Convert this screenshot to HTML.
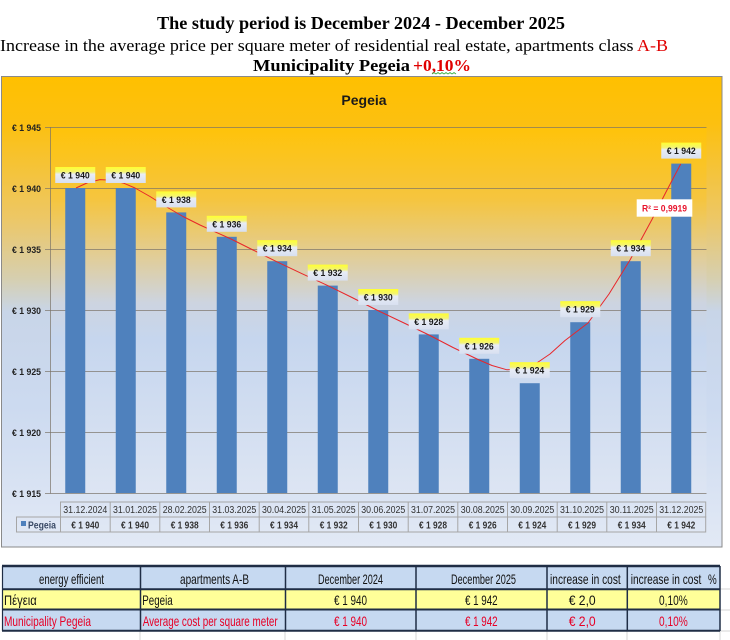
<!DOCTYPE html>
<html><head><meta charset="utf-8"><style>
html,body{margin:0;padding:0;background:#fff;}
svg{display:block;}
</style></head><body>
<svg width="730" height="640" viewBox="0 0 730 640" xmlns="http://www.w3.org/2000/svg">
<defs>
<linearGradient id="ca" x1="0" y1="0" x2="0" y2="1">
<stop offset="0" stop-color="#FFC000"/>
<stop offset="0.1" stop-color="#FCC010"/>
<stop offset="0.3" stop-color="#EDC765"/>
<stop offset="0.43" stop-color="#D6CFB0"/>
<stop offset="0.5" stop-color="#C8D5E8"/>
<stop offset="0.7" stop-color="#CCDAF0"/>
<stop offset="1" stop-color="#E2E9F5"/>
</linearGradient>
<linearGradient id="pa" x1="0" y1="0" x2="0" y2="1">
<stop offset="0" stop-color="#FFC309"/>
<stop offset="0.2" stop-color="#F5C540"/>
<stop offset="0.35" stop-color="#E2CD95"/>
<stop offset="0.48" stop-color="#CDD4E0"/>
<stop offset="0.58" stop-color="#C6D6EE"/>
<stop offset="1" stop-color="#DDE5F3"/>
</linearGradient>
<linearGradient id="lb" x1="0" y1="0" x2="0" y2="1">
<stop offset="0" stop-color="#FFFF30"/>
<stop offset="0.3" stop-color="#F4F470"/>
<stop offset="0.45" stop-color="#E8ECF6"/>
<stop offset="1" stop-color="#D8E0F0"/>
</linearGradient>
</defs>

<!-- Titles -->
<g font-family="'Liberation Serif', serif" fill="#000">
<text x="157" y="29" font-size="18" font-weight="bold" textLength="408" lengthAdjust="spacingAndGlyphs">The study period is December 2024 - December 2025</text>
<text x="0" y="51" font-size="17" textLength="668" lengthAdjust="spacingAndGlyphs">Increase in the average price per square meter of residential real estate, apartments class <tspan fill="#E00000">A-B</tspan></text>
<text x="253" y="71" font-size="17" font-weight="bold" textLength="157" lengthAdjust="spacingAndGlyphs">Municipality Pegeia</text>
<text x="413" y="71" font-size="17" font-weight="bold" fill="#E00000" textLength="58" lengthAdjust="spacingAndGlyphs">+0,10%</text>
</g>
<polyline points="432,74 434,72.5 436,74 438,72.5 440,74 442,72.5 444,74 446,72.5 448,74 450,72.5 452,74 454,72.5 456,74" fill="none" stroke="#3CB043" stroke-width="0.8"/>

<!-- Chart area -->
<rect x="1.5" y="76.5" width="720.5" height="470.5" fill="url(#ca)" stroke="#8A8A8A" stroke-width="1"/>
<text x="364" y="105" text-anchor="middle" font-family="'Liberation Sans', sans-serif" font-size="14" font-weight="bold" fill="#1a1a1a">Pegeia</text>

<!-- Plot area -->
<rect x="50" y="127" width="656.5" height="366" fill="url(#pa)"/>

<!-- Gridlines -->
<g stroke="#7a7468" stroke-opacity="0.7" stroke-width="1">
<line x1="45" y1="127.5" x2="706.5" y2="127.5"/>
<line x1="45" y1="188.5" x2="706.5" y2="188.5"/>
<line x1="45" y1="249.5" x2="706.5" y2="249.5"/>
<line x1="45" y1="310.5" x2="706.5" y2="310.5"/>
<line x1="45" y1="371.5" x2="706.5" y2="371.5"/>
<line x1="45" y1="432.5" x2="706.5" y2="432.5"/>
<line x1="45" y1="493.5" x2="706.5" y2="493.5"/>
<line x1="50.5" y1="127" x2="50.5" y2="493.5"/>
</g>

<!-- Y labels -->
<g font-family="'Liberation Sans', sans-serif" font-size="9.5" font-weight="bold" fill="#222" text-anchor="end">
<text x="41" y="131" textLength="29" lengthAdjust="spacingAndGlyphs">€ 1 945</text>
<text x="41" y="192" textLength="29" lengthAdjust="spacingAndGlyphs">€ 1 940</text>
<text x="41" y="253" textLength="29" lengthAdjust="spacingAndGlyphs">€ 1 935</text>
<text x="41" y="314" textLength="29" lengthAdjust="spacingAndGlyphs">€ 1 930</text>
<text x="41" y="375" textLength="29" lengthAdjust="spacingAndGlyphs">€ 1 925</text>
<text x="41" y="436" textLength="29" lengthAdjust="spacingAndGlyphs">€ 1 920</text>
<text x="41" y="497" textLength="29" lengthAdjust="spacingAndGlyphs">€ 1 915</text>
</g>

<!-- Bars -->
<g fill="#4F81BD">
<rect x="65.25" y="188" width="20" height="305"/>
<rect x="115.75" y="188" width="20" height="305"/>
<rect x="166.25" y="212.4" width="20" height="280.6"/>
<rect x="216.75" y="236.8" width="20" height="256.2"/>
<rect x="267.25" y="261.2" width="20" height="231.8"/>
<rect x="317.75" y="285.6" width="20" height="207.4"/>
<rect x="368.25" y="310" width="20" height="183"/>
<rect x="418.75" y="334.4" width="20" height="158.6"/>
<rect x="469.25" y="358.8" width="20" height="134.2"/>
<rect x="519.75" y="383.2" width="20" height="109.8"/>
<rect x="570.25" y="322.2" width="20" height="170.8"/>
<rect x="620.75" y="261.2" width="20" height="231.8"/>
<rect x="671.25" y="163.6" width="20" height="329.4"/>
</g>

<!-- Trendline -->
<polyline fill="none" stroke="#E8262A" stroke-width="1" stroke-linejoin="round" points="76,188 88,182.5 100,179.6 112,180.3 124,183.3 135,188 150,196.5 166.7,207 183,216.5 200,225 215,231.8 230,238.5 253,250 276.7,261.7 302,273.7 328,285.7 352,297.5 376.7,310 403,322.5 429,335 453,347.5 478,359.5 492,365.5 507,369.8 522,368.5 536,363.5 550,354 565,340.5 588,323 609,294 630,260 651.7,220 666,192 680.7,164"/>

<!-- Data labels -->
<g font-family="'Liberation Sans', sans-serif" font-size="9.5" font-weight="bold" fill="#1a1a1a" text-anchor="middle">
<rect x="55.25" y="167" width="40" height="16" fill="url(#lb)"/><text x="75.25" y="178.5" textLength="29" lengthAdjust="spacingAndGlyphs">€ 1 940</text>
<rect x="105.75" y="167" width="40" height="16" fill="url(#lb)"/><text x="125.75" y="178.5" textLength="29" lengthAdjust="spacingAndGlyphs">€ 1 940</text>
<rect x="156.25" y="191.4" width="40" height="16" fill="url(#lb)"/><text x="176.25" y="202.9" textLength="29" lengthAdjust="spacingAndGlyphs">€ 1 938</text>
<rect x="206.75" y="215.8" width="40" height="16" fill="url(#lb)"/><text x="226.75" y="227.3" textLength="29" lengthAdjust="spacingAndGlyphs">€ 1 936</text>
<rect x="257.25" y="240.2" width="40" height="16" fill="url(#lb)"/><text x="277.25" y="251.7" textLength="29" lengthAdjust="spacingAndGlyphs">€ 1 934</text>
<rect x="307.75" y="264.6" width="40" height="16" fill="url(#lb)"/><text x="327.75" y="276.1" textLength="29" lengthAdjust="spacingAndGlyphs">€ 1 932</text>
<rect x="358.25" y="289" width="40" height="16" fill="url(#lb)"/><text x="378.25" y="300.5" textLength="29" lengthAdjust="spacingAndGlyphs">€ 1 930</text>
<rect x="408.75" y="313.4" width="40" height="16" fill="url(#lb)"/><text x="428.75" y="324.9" textLength="29" lengthAdjust="spacingAndGlyphs">€ 1 928</text>
<rect x="459.25" y="337.8" width="40" height="16" fill="url(#lb)"/><text x="479.25" y="349.3" textLength="29" lengthAdjust="spacingAndGlyphs">€ 1 926</text>
<rect x="509.75" y="362.2" width="40" height="16" fill="url(#lb)"/><text x="529.75" y="373.7" textLength="29" lengthAdjust="spacingAndGlyphs">€ 1 924</text>
<rect x="560.25" y="301.2" width="40" height="16" fill="url(#lb)"/><text x="580.25" y="312.7" textLength="29" lengthAdjust="spacingAndGlyphs">€ 1 929</text>
<rect x="610.75" y="240.2" width="40" height="16" fill="url(#lb)"/><text x="630.75" y="251.7" textLength="29" lengthAdjust="spacingAndGlyphs">€ 1 934</text>
<rect x="661.25" y="142.6" width="40" height="16" fill="url(#lb)"/><text x="681.25" y="154.1" textLength="29" lengthAdjust="spacingAndGlyphs">€ 1 942</text>
</g>

<!-- R2 label -->
<rect x="636.7" y="199.3" width="55.6" height="17.4" fill="#FFFFFF"/>
<text x="664.5" y="211.5" text-anchor="middle" font-family="'Liberation Sans', sans-serif" font-size="9" font-weight="bold" fill="#E8142C" textLength="45" lengthAdjust="spacingAndGlyphs">R² = 0,9919</text>

<!-- Data table inside chart -->
<g stroke="#A6A6A6" stroke-width="1" fill="none">
<rect x="60.5" y="502" width="645.2" height="15"/>
<rect x="16.5" y="517" width="689.2" height="15"/>
<line x1="110.2" y1="502" x2="110.2" y2="532"/>
<line x1="159.8" y1="502" x2="159.8" y2="532"/>
<line x1="209.5" y1="502" x2="209.5" y2="532"/>
<line x1="259.2" y1="502" x2="259.2" y2="532"/>
<line x1="308.8" y1="502" x2="308.8" y2="532"/>
<line x1="358.5" y1="502" x2="358.5" y2="532"/>
<line x1="408.2" y1="502" x2="408.2" y2="532"/>
<line x1="457.8" y1="502" x2="457.8" y2="532"/>
<line x1="507.5" y1="502" x2="507.5" y2="532"/>
<line x1="557.2" y1="502" x2="557.2" y2="532"/>
<line x1="606.8" y1="502" x2="606.8" y2="532"/>
<line x1="656.5" y1="502" x2="656.5" y2="532"/>
<line x1="60.5" y1="517" x2="60.5" y2="532"/>
</g>
<g font-family="'Liberation Sans', sans-serif" font-size="10" fill="#333" text-anchor="middle">
<text x="85.3" y="513" textLength="44" lengthAdjust="spacingAndGlyphs">31.12.2024</text>
<text x="135" y="513" textLength="44" lengthAdjust="spacingAndGlyphs">31.01.2025</text>
<text x="184.7" y="513" textLength="44" lengthAdjust="spacingAndGlyphs">28.02.2025</text>
<text x="234.3" y="513" textLength="44" lengthAdjust="spacingAndGlyphs">31.03.2025</text>
<text x="284" y="513" textLength="44" lengthAdjust="spacingAndGlyphs">30.04.2025</text>
<text x="333.7" y="513" textLength="44" lengthAdjust="spacingAndGlyphs">31.05.2025</text>
<text x="383.3" y="513" textLength="44" lengthAdjust="spacingAndGlyphs">30.06.2025</text>
<text x="433" y="513" textLength="44" lengthAdjust="spacingAndGlyphs">31.07.2025</text>
<text x="482.7" y="513" textLength="44" lengthAdjust="spacingAndGlyphs">30.08.2025</text>
<text x="532.3" y="513" textLength="44" lengthAdjust="spacingAndGlyphs">30.09.2025</text>
<text x="582" y="513" textLength="44" lengthAdjust="spacingAndGlyphs">31.10.2025</text>
<text x="631.7" y="513" textLength="44" lengthAdjust="spacingAndGlyphs">30.11.2025</text>
<text x="681.3" y="513" textLength="44" lengthAdjust="spacingAndGlyphs">31.12.2025</text>
</g>
<g font-family="'Liberation Sans', sans-serif" font-size="10" font-weight="bold" fill="#333" text-anchor="middle">
<text x="85.3" y="528.5" textLength="28" lengthAdjust="spacingAndGlyphs">€ 1 940</text>
<text x="135" y="528.5" textLength="28" lengthAdjust="spacingAndGlyphs">€ 1 940</text>
<text x="184.7" y="528.5" textLength="28" lengthAdjust="spacingAndGlyphs">€ 1 938</text>
<text x="234.3" y="528.5" textLength="28" lengthAdjust="spacingAndGlyphs">€ 1 936</text>
<text x="284" y="528.5" textLength="28" lengthAdjust="spacingAndGlyphs">€ 1 934</text>
<text x="333.7" y="528.5" textLength="28" lengthAdjust="spacingAndGlyphs">€ 1 932</text>
<text x="383.3" y="528.5" textLength="28" lengthAdjust="spacingAndGlyphs">€ 1 930</text>
<text x="433" y="528.5" textLength="28" lengthAdjust="spacingAndGlyphs">€ 1 928</text>
<text x="482.7" y="528.5" textLength="28" lengthAdjust="spacingAndGlyphs">€ 1 926</text>
<text x="532.3" y="528.5" textLength="28" lengthAdjust="spacingAndGlyphs">€ 1 924</text>
<text x="582" y="528.5" textLength="28" lengthAdjust="spacingAndGlyphs">€ 1 929</text>
<text x="631.7" y="528.5" textLength="28" lengthAdjust="spacingAndGlyphs">€ 1 934</text>
<text x="681.3" y="528.5" textLength="28" lengthAdjust="spacingAndGlyphs">€ 1 942</text>
</g>
<rect x="21" y="521" width="5" height="5" fill="#4F81BD"/>
<text x="28" y="528.5" font-family="'Liberation Sans', sans-serif" font-size="10" font-weight="bold" fill="#3a4a66" textLength="28" lengthAdjust="spacingAndGlyphs">Pegeia</text>

<!-- Bottom table -->
<g stroke="#D4D4D4" stroke-width="1">
<line x1="140" y1="631" x2="140" y2="640"/>
<line x1="285" y1="631" x2="285" y2="640"/>
<line x1="416" y1="631" x2="416" y2="640"/>
<line x1="547" y1="631" x2="547" y2="640"/>
<line x1="627" y1="631" x2="627" y2="640"/>
<line x1="720" y1="631" x2="720" y2="640"/>
<line x1="720" y1="589" x2="730" y2="589"/>
<line x1="720" y1="610" x2="730" y2="610"/>
<line x1="720" y1="631" x2="730" y2="631"/>
</g>
<rect x="2" y="566" width="718" height="23" fill="#C6D9F1"/>
<rect x="2" y="589" width="718" height="21" fill="#FFFF99"/>
<rect x="2" y="610" width="718" height="21" fill="#C6D9F1"/>
<g stroke="#1F2D45">
<line x1="2" y1="566" x2="720" y2="566" stroke-width="2.5"/>
<line x1="2" y1="589.3" x2="720" y2="589.3" stroke-width="2"/>
<line x1="2" y1="609.5" x2="720" y2="609.5" stroke-width="2"/>
<line x1="2" y1="630.7" x2="720" y2="630.7" stroke-width="2"/>
<line x1="2.5" y1="566" x2="2.5" y2="631" stroke-width="1.2"/>
<line x1="140.5" y1="566" x2="140.5" y2="631" stroke-width="1.5"/>
<line x1="285.5" y1="566" x2="285.5" y2="631" stroke-width="1.5"/>
<line x1="416" y1="566" x2="416" y2="631" stroke-width="1.5"/>
<line x1="547" y1="566" x2="547" y2="631" stroke-width="1.5"/>
<line x1="627.3" y1="566" x2="627.3" y2="631" stroke-width="1.5"/>
<line x1="720" y1="566" x2="720" y2="631" stroke-width="1.5"/>
</g>
<g font-family="'Liberation Sans Narrow', 'Liberation Sans', 'DejaVu Sans', sans-serif" font-size="14" fill="#111">
<text x="71.5" y="584" text-anchor="middle" textLength="65" lengthAdjust="spacingAndGlyphs">energy efficient</text>
<text x="214.5" y="584" text-anchor="middle" textLength="69" lengthAdjust="spacingAndGlyphs">apartments A-B</text>
<text x="350.5" y="584" text-anchor="middle" textLength="65" lengthAdjust="spacingAndGlyphs">December 2024</text>
<text x="483.5" y="584" text-anchor="middle" textLength="65" lengthAdjust="spacingAndGlyphs">December 2025</text>
<text x="585.4" y="584" text-anchor="middle" textLength="70.7" lengthAdjust="spacingAndGlyphs">increase in cost</text>
<text x="630.7" y="584" textLength="70.7" lengthAdjust="spacingAndGlyphs">increase in cost</text>
<text x="708" y="584" textLength="8.7" lengthAdjust="spacingAndGlyphs">%</text>
<text x="4" y="605" textLength="32.7" lengthAdjust="spacingAndGlyphs">Πέγεια</text>
<text x="142.3" y="605" textLength="30.4" lengthAdjust="spacingAndGlyphs">Pegeia</text>
<text x="350.5" y="605" text-anchor="middle" textLength="33" lengthAdjust="spacingAndGlyphs">€ 1 940</text>
<text x="481.3" y="605" text-anchor="middle" textLength="32.7" lengthAdjust="spacingAndGlyphs">€ 1 942</text>
<text x="582.2" y="605" text-anchor="middle" textLength="27" lengthAdjust="spacingAndGlyphs">€ 2,0</text>
<text x="673.4" y="605" text-anchor="middle" textLength="28.7" lengthAdjust="spacingAndGlyphs">0,10%</text>
</g>
<g font-family="'Liberation Sans Narrow', 'Liberation Sans', sans-serif" font-size="14" fill="#E60026">
<text x="4" y="626" textLength="87" lengthAdjust="spacingAndGlyphs">Municipality Pegeia</text>
<text x="142.7" y="626" textLength="135" lengthAdjust="spacingAndGlyphs">Average cost per square meter</text>
<text x="350.5" y="626" text-anchor="middle" textLength="33" lengthAdjust="spacingAndGlyphs">€ 1 940</text>
<text x="481.3" y="626" text-anchor="middle" textLength="32.7" lengthAdjust="spacingAndGlyphs">€ 1 942</text>
<text x="582.2" y="626" text-anchor="middle" textLength="27" lengthAdjust="spacingAndGlyphs">€ 2,0</text>
<text x="673.4" y="626" text-anchor="middle" textLength="28.7" lengthAdjust="spacingAndGlyphs">0,10%</text>
</g>
</svg>
</body></html>
